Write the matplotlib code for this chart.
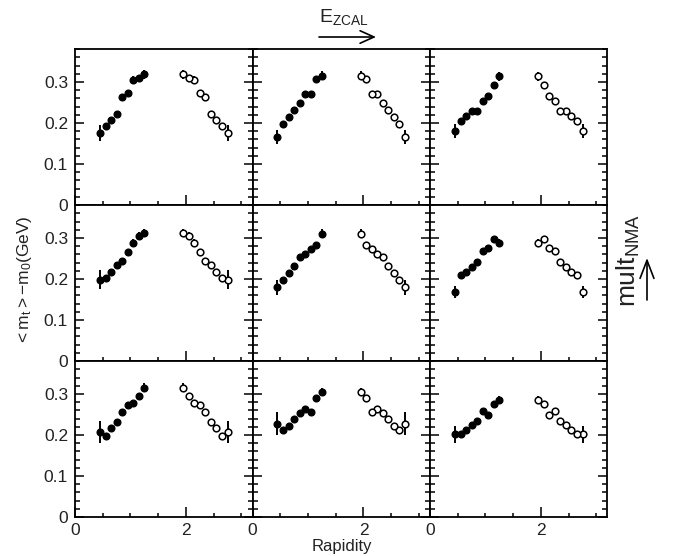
import matplotlib
matplotlib.use('Agg')
import matplotlib.pyplot as plt
from matplotlib.ticker import MultipleLocator, FixedLocator, FuncFormatter

plt.rcParams['font.family'] = ['Liberation Sans', 'DejaVu Sans']
plt.rcParams['mathtext.fontset'] = 'custom'
plt.rcParams['mathtext.rm'] = 'Liberation Sans'
plt.rcParams['mathtext.it'] = 'Liberation Sans'

# rapidity bins of the measured (forward) points
rapidity = [0.45, 0.55, 0.65, 0.75, 0.85, 0.95, 1.05, 1.15, 1.25]
y_cm = 1.6  # mid-rapidity, open points are the reflection of the filled ones

# <mt>-m0 (GeV), rows: high / middle / low multiplicity, columns: low -> high E_ZCAL
mt_r1c1 = [0.176, 0.193, 0.208, 0.223, 0.263, 0.274, 0.304, 0.309, 0.319]
mt_r1c2 = [0.166, 0.198, 0.214, 0.231, 0.250, 0.270, 0.270, 0.307, 0.315]
mt_r1c3 = [0.180, 0.206, 0.217, 0.229, 0.229, 0.253, 0.265, 0.293, 0.314]
mt_r2c1 = [0.198, 0.202, 0.218, 0.233, 0.245, 0.267, 0.289, 0.306, 0.312]
mt_r2c2 = [0.180, 0.198, 0.215, 0.231, 0.253, 0.261, 0.272, 0.283, 0.310]
mt_r2c3 = [0.168, 0.209, 0.216, 0.230, 0.241, 0.269, 0.275, 0.297, 0.288]
mt_r3c1 = [0.208, 0.198, 0.216, 0.232, 0.255, 0.272, 0.277, 0.294, 0.315]
mt_r3c2 = [0.227, 0.212, 0.223, 0.239, 0.253, 0.263, 0.257, 0.290, 0.305]
mt_r3c3 = [0.202, 0.202, 0.212, 0.225, 0.233, 0.259, 0.249, 0.275, 0.285]

err_r1c1 = [0.020, 0.004, 0.004, 0.004, 0.005, 0.005, 0.010, 0.009, 0.011]
err_r1c2 = [0.017, 0.004, 0.004, 0.004, 0.005, 0.005, 0.005, 0.008, 0.011]
err_r1c3 = [0.017, 0.004, 0.004, 0.004, 0.005, 0.005, 0.006, 0.007, 0.011]
err_r2c1 = [0.023, 0.004, 0.004, 0.005, 0.005, 0.006, 0.009, 0.009, 0.010]
err_r2c2 = [0.018, 0.004, 0.004, 0.004, 0.005, 0.005, 0.006, 0.007, 0.011]
err_r2c3 = [0.014, 0.004, 0.004, 0.004, 0.005, 0.005, 0.006, 0.007, 0.010]
err_r3c1 = [0.027, 0.004, 0.004, 0.005, 0.005, 0.006, 0.007, 0.008, 0.011]
err_r3c2 = [0.028, 0.004, 0.004, 0.004, 0.005, 0.005, 0.006, 0.008, 0.010]
err_r3c3 = [0.021, 0.004, 0.004, 0.004, 0.005, 0.005, 0.006, 0.007, 0.009]

mt_grid = [[mt_r1c1, mt_r1c2, mt_r1c3],
           [mt_r2c1, mt_r2c2, mt_r2c3],
           [mt_r3c1, mt_r3c2, mt_r3c3]]
err_grid = [[err_r1c1, err_r1c2, err_r1c3],
            [err_r2c1, err_r2c2, err_r2c3],
            [err_r3c1, err_r3c2, err_r3c3]]

rapidity_refl = [2 * y_cm - y for y in rapidity]

W, H = 673, 556
fig = plt.figure(figsize=(W / 100, H / 100), dpi=100)

left, top = 75, 49
pw, ph = 177.5, 156
txt = '#222222'


def y_fmt(v, pos):
    if abs(v) < 1e-9:
        return '0'
    return f'{v:.1f}'


for r in range(3):
    for c in range(3):
        x0 = left + c * pw
        y0 = top + (r + 1) * ph
        ax = fig.add_axes([x0 / W, 1 - y0 / H, pw / W, ph / H])
        mt = mt_grid[r][c]
        err = err_grid[r][c]

        ax.errorbar(rapidity, mt, yerr=err, fmt='o', color='k', ms=4.8,
                    elinewidth=1.4, capsize=0)
        ax.errorbar(rapidity_refl, mt, yerr=err, fmt='o', color='k', mfc='white',
                    mec='k', mew=1.1, ms=4.8, elinewidth=1.4, capsize=0)

        ax.set_xlim(0, 3.2)
        ax.set_ylim(0, 0.3805)
        ax.xaxis.set_major_locator(FixedLocator([0, 2]))
        ax.xaxis.set_minor_locator(MultipleLocator(0.5))
        ax.yaxis.set_major_locator(MultipleLocator(0.1))
        ax.yaxis.set_minor_locator(MultipleLocator(0.02))
        ax.yaxis.set_major_formatter(FuncFormatter(y_fmt))

        ax.tick_params(which='both', direction='in', top=False, right=True,
                       width=1.1, colors='k', labelcolor=txt, labelsize=12.5)
        ax.tick_params(axis='x', which='major', length=7, pad=4)
        ax.tick_params(axis='x', which='minor', length=3.2)
        ax.tick_params(axis='y', which='major', length=6.5, pad=5)
        ax.tick_params(axis='y', which='minor', length=3.6)

        if c > 0:
            ax.tick_params(axis='y', labelleft=False)
        if r < 2:
            ax.tick_params(axis='x', labelbottom=False)
        for s in ax.spines.values():
            s.set_linewidth(1.3)

# axis titles
fig.text(342 / W, 1 - 551 / H, 'Rapidity', ha='center', va='baseline',
         fontsize=12, color=txt)
fig.text(25 / W, 1 - 280 / H, r'$\mathregular{{<}m_t{>}{-}m_0(GeV)}$',
         rotation=90, ha='center', va='center', fontsize=12.5, color=txt)

# E_ZCAL increases to the right
fig.text(319 / W, 1 - 22 / H, r'$\mathregular{E_{ZCAL}}$', ha='left', va='baseline',
         fontsize=14, color=txt)
fig.add_artist(matplotlib.patches.FancyArrowPatch(
    (319 / W, 1 - 37 / H), (376 / W, 1 - 37 / H), transform=fig.transFigure,
    arrowstyle='->,head_length=1.0,head_width=0.45', mutation_scale=10,
    lw=1.2, color='k', shrinkA=0, shrinkB=0))

# mult_NMA increases upwards
fig.text(628 / W, 1 - 260 / H, r'$\mathregular{mult_{NMA}}$', rotation=90,
         ha='center', va='center', fontsize=19, color=txt)
fig.add_artist(matplotlib.patches.FancyArrowPatch(
    (647 / W, 1 - 300 / H), (647 / W, 1 - 258 / H), transform=fig.transFigure,
    arrowstyle='->,head_length=1.3,head_width=0.5', mutation_scale=10,
    lw=1.2, color='k', shrinkA=0, shrinkB=0))

fig.savefig('out.png', dpi=100)
